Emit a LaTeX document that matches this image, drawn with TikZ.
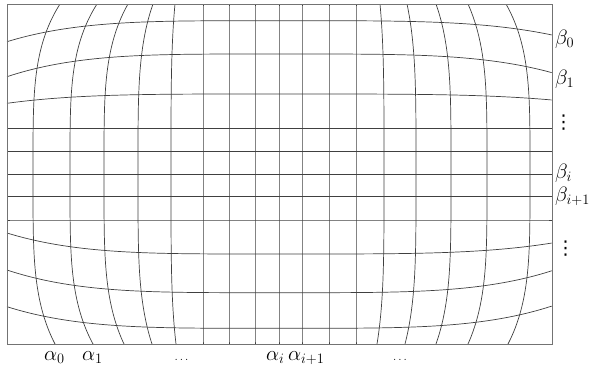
\documentclass[tikz,border=0pt]{standalone}
\usepackage{fontspec}
\newfontfamily\dejavufont{DejaVu Sans}
\begin{document}
\begin{tikzpicture}[x=1pt,y=-1pt,
  gridline/.style={line width=0.7pt, draw=black!75},
  frame/.style={line width=0.9pt, draw=black!55},
  lbl/.style={inner sep=0pt, anchor=base west, font=\fontsize{21}{24}\selectfont},
  hdots/.style={inner sep=0pt, anchor=base, font=\fontsize{13}{15}\selectfont},
  vdotsnode/.style={inner sep=0pt, anchor=center, font=\dejavufont\fontsize{19}{21}\selectfont},
]
\useasboundingbox (0,0) rectangle (603,375);
% vertical (alpha) lines: mid x / top end x / bottom end x
\foreach \m/\tp/\bt in {33/60/55, 70/97/93, 104/128/124, 138/153/152, 171/175/176,
  203/203/203, 229/229/229, 255/255/255, 279/279/279, 302/302/302, 329/329/329,
  356/356/356, 384/380/377, 416/407/405, 451/436/436, 487/468/468, 530/506/508} {
  \draw[gridline] plot[domain=-1:1, samples=101, variable=\t]
    ({\m - ((\t>0)*(\m-\tp) + (\t<=0)*(\m-\bt))*pow(abs(\t),4)}, {174 - 170*\t});
}
% horizontal (beta) lines: centre y / left end y / right end y
\foreach \c/\l/\r in {20.7/41.7/35, 54/76.7/72.7, 94/103.3/100, 128.3/128.3/128.3,
  151.7/151.7/151.7, 174.3/174.3/174.3, 196.7/196.7/196.7, 220/220/220,
  254/233/243, 292.7/270/270.7, 328.3/306.7/306} {
  \draw[gridline] plot[domain=-1:1, samples=101, variable=\t]
    ({279.5+272.5*\t}, {\c - ((\t>0)*(\c-\r) + (\t<=0)*(\c-\l))*pow(abs(\t),4)});
}
\draw[frame] (7,4) rectangle (552,344);
% labels
\node[lbl] (b0) at (555,44) {$\beta_0$};
\node[lbl] (b1) at (555,84) {$\beta_1$};
\node[vdotsnode] (v1) at (563.5,122.5) {⋮};
\node[lbl] (bi) at (555,178) {$\beta_i$};
\node[lbl] (bi1) at (555,201) {$\beta_{i+1}$};
\node[vdotsnode] (v2) at (565.5,248.5) {⋮};
\node[lbl] (a0) at (44,360) {$\alpha_0$};
\node[lbl] (a1) at (82,360) {$\alpha_1$};
\node[hdots] (h1) at (181.5,360) {$\ldots$};
\node[lbl] (ai) at (266,360) {$\alpha_i$};
\node[lbl] (ai1) at (288,360) {$\alpha_{i+1}$};
\node[hdots] (h2) at (400,360) {$\ldots$};
\end{tikzpicture}
\end{document}
